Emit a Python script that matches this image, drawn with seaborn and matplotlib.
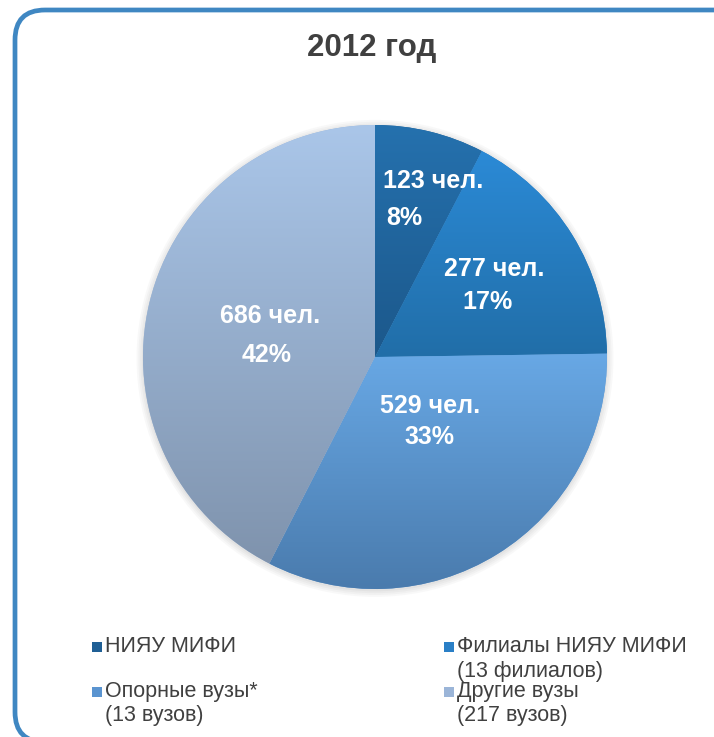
import numpy as np
import matplotlib
matplotlib.use("Agg")
import matplotlib.pyplot as plt
from matplotlib.colors import LinearSegmentedColormap
from matplotlib.patches import FancyBboxPatch, Rectangle, Circle
import seaborn as sns

# Data
categories = ["НИЯУ МИФИ", "Филиалы НИЯУ МИФИ", "Опорные вузы*", "Другие вузы"]
subtitles = ["", "(13 филиалов)", "(13 вузов)", "(217 вузов)"]
people = [123, 277, 529, 686]
title = "2012 год"

# Styling
sns.set_theme(style="white")
plt.rcParams["font.family"] = ["Liberation Sans", "DejaVu Sans"]

grad_top = ["#2571ae", "#2b8ad6", "#68a8e5", "#aac6e9"]
grad_bottom = ["#1c588b", "#216ea8", "#4a7bad", "#7f93ad"]
legend_colors = ["#1f5f95", "#2a7fc6", "#5a94d0", "#9bb5d8"]
text_grey = "#404040"

W, H = 714, 737
fig = plt.figure(figsize=(W / 100, H / 100), dpi=100)

# Background canvas in pixel units: frame, title and legend
bg = fig.add_axes([0, 0, 1, 1], zorder=0)
bg.set_xlim(0, W)
bg.set_ylim(H, 0)
bg.axis("off")
bg.add_patch(FancyBboxPatch((15, 10), 760, 732,
                            boxstyle="round,pad=0,rounding_size=30",
                            facecolor="white", edgecolor="#3f87c2", lw=3.4))
bg.text(372, 48, title, ha="center", va="center", fontsize=22.5,
        fontweight="bold", color=text_grey)

# Legend placed as a 2x2 grid
legend_slots = [(92, 647), (444, 647), (92, 692), (444, 692)]
for (lx, ly), name, sub, col in zip(legend_slots, categories, subtitles, legend_colors):
    bg.add_patch(Rectangle((lx, ly - 5), 10, 10, facecolor=col, edgecolor="none"))
    bg.text(lx + 13, ly, name, ha="left", va="center", fontsize=15.5, color=text_grey)
    if sub:
        bg.text(lx + 13, ly + 24, sub, ha="left", va="center", fontsize=15.5, color=text_grey)

# Pie axes
cx, cy, r = 375, 357, 232
ax = fig.add_axes([(cx - r) / W, (H - cy - r) / H, 2 * r / W, 2 * r / H], zorder=1)
ax.axis("off")

# soft shadow around the pie
for k, a in enumerate([0.05, 0.05, 0.06, 0.07]):
    ax.add_patch(Circle((0.0, -0.006), 1.028 - k * 0.008, facecolor="#808080",
                        edgecolor="none", alpha=a, zorder=0))

wedges, _ = ax.pie(people, startangle=90, counterclock=False, radius=1,
                   colors=legend_colors,
                   wedgeprops=dict(edgecolor="none", linewidth=0))

# vertical gradient fill for each slice
grad = np.linspace(0, 1, 256).reshape(-1, 1)
for w, top, bot in zip(wedges, grad_top, grad_bottom):
    ext = w.get_path().get_extents()
    cmap = LinearSegmentedColormap.from_list("g", [top, bot])
    im = ax.imshow(grad, cmap=cmap, aspect="auto", origin="upper",
                   extent=[ext.x0, ext.x1, ext.y0, ext.y1], zorder=2,
                   interpolation="bilinear")
    im.set_clip_path(w)
    w.set_zorder(1)

ax.set_xlim(-1.05, 1.05)
ax.set_ylim(-1.05, 1.05)
ax.set_position([(cx - 1.05 * r) / W, (H - cy - 1.05 * r) / H,
                 2.1 * r / W, 2.1 * r / H])
ax.set_aspect("equal")

# value labels
total = sum(people)
label_pos = [((0.250, 0.759), (0.125, 0.599)),
             ((0.513, 0.379), (0.487, 0.237)),
             ((0.237, -0.211), (0.237, -0.345)),
             ((-0.453, 0.177), (-0.466, 0.009))]
for v, (p1, p2) in zip(people, label_pos):
    ax.text(*p1, f"{v} чел.", ha="center", va="center", fontsize=18,
            fontweight="bold", color="white", zorder=5)
    ax.text(*p2, f"{round(100 * v / total)}%", ha="center", va="center",
            fontsize=18, fontweight="bold", color="white", zorder=5)

fig.savefig("out.png", dpi=100)
